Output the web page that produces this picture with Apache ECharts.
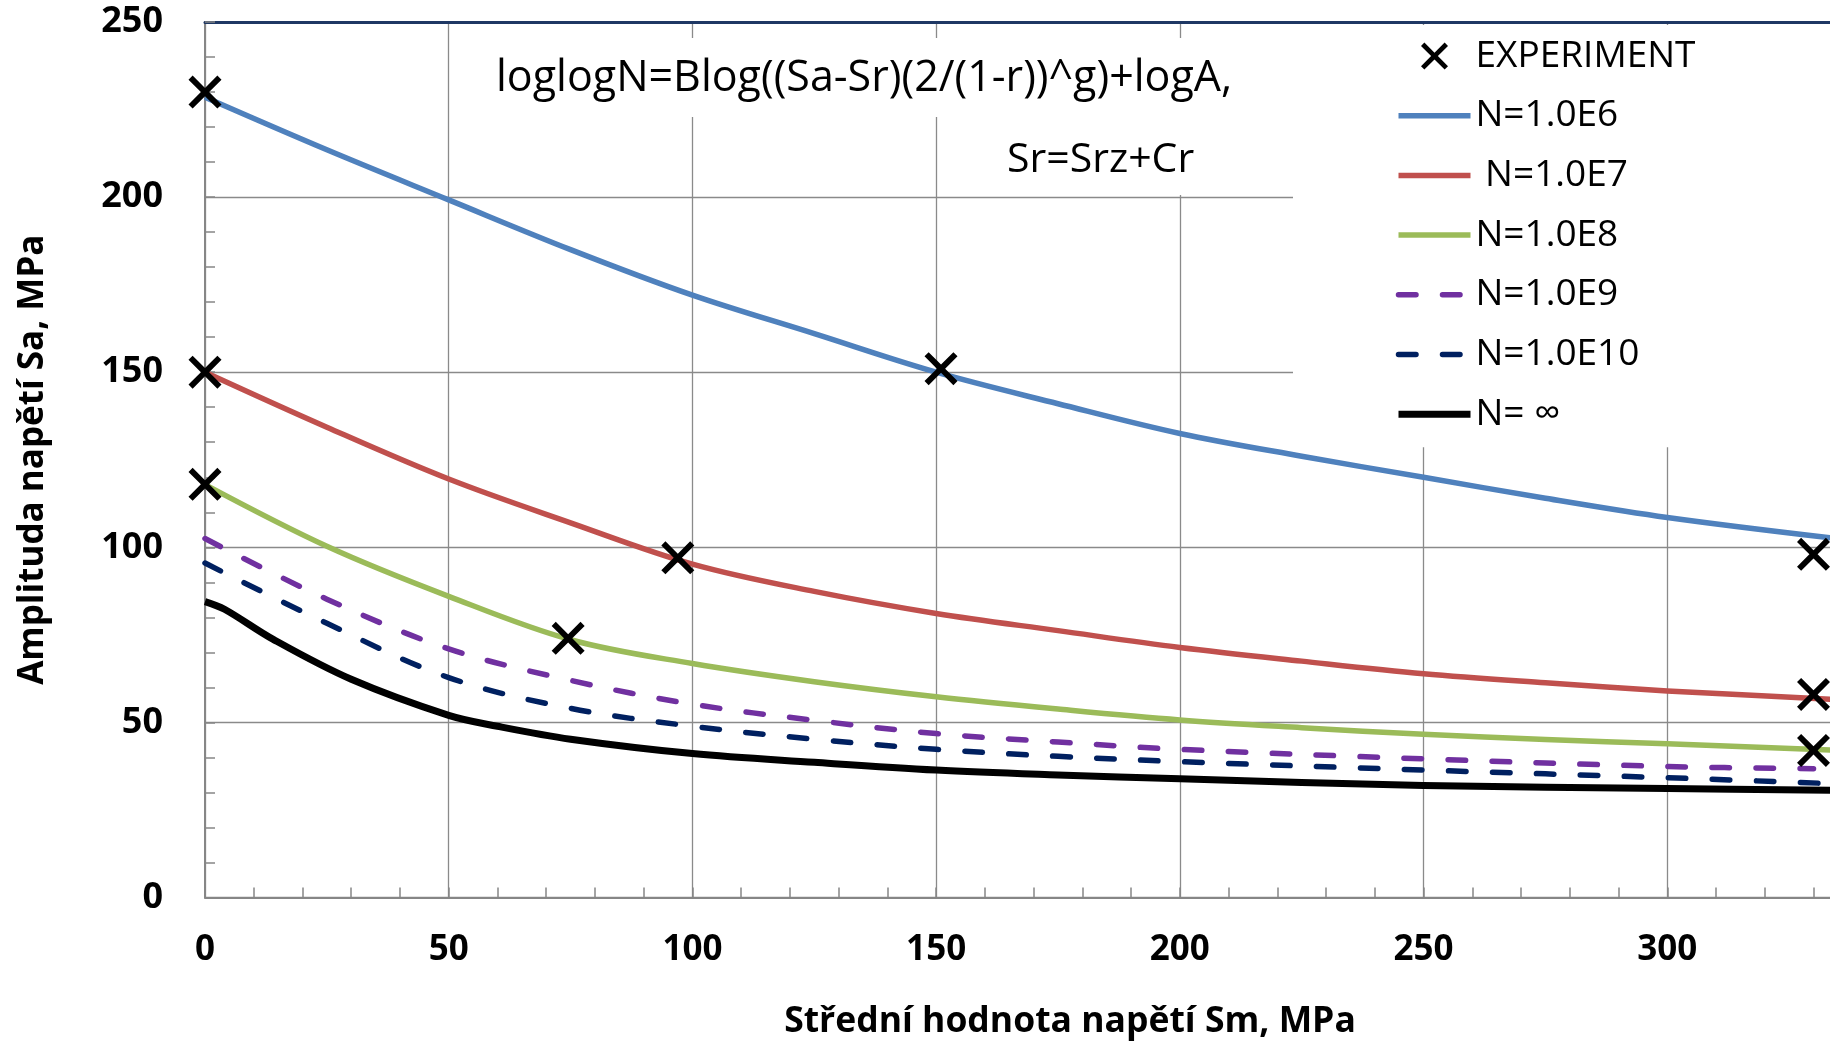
<!DOCTYPE html>
<html>
<head>
<meta charset="utf-8">
<script src="https://cdn.jsdelivr.net/npm/echarts@6/dist/echarts.min.js"></script>
<style>
  html, body { margin: 0; padding: 0; background: #ffffff; }
  #chart { width: 1830px; height: 1044px; }
</style>
</head>
<body>
<div id="chart"></div>
<script>
// Stress amplitude Sa (MPa) versus mean stress Sm (MPa) for each fatigue life
const curveN1e6  = [[0,228.5],[25,213.5],[50,199.2],[75,185],[100,172],[125,161],[150,150],[175,141],[200,132.5],[225,126],[250,120],[275,114],[300,108.5],[334,102.6]];
const curveN1e7  = [[0,150],[25,134.3],[50,119.5],[75,107],[100,95.2],[125,87.4],[150,81.1],[175,76.2],[200,71.4],[225,67.5],[250,63.9],[275,61.3],[300,59],[334,56.6]];
const curveN1e8  = [[0,117.9],[25,100.3],[50,86],[75,73.6],[100,66.8],[125,61.6],[150,57.3],[175,53.8],[200,50.7],[225,48.5],[250,46.6],[275,45.1],[300,43.9],[334,42.1]];
const curveN1e9  = [[0,102.5],[25,85.2],[50,71],[75,62],[100,55.2],[125,50.6],[150,46.8],[175,44.4],[200,42.3],[250,39.6],[300,37.4],[330,36.8]];
const curveN1e10 = [[0,95.5],[25,78.3],[50,62.8],[75,54],[100,48.9],[125,45.2],[150,42.3],[175,40.3],[200,38.8],[250,36.4],[300,34.2],[334,32.5]];
const curveNinf  = [[0,84.5],[4,82.3],[14,73.7],[30,62.3],[50,52],[60,48.9],[75,45.2],[100,41.1],[125,38.6],[150,36.4],[175,35],[200,33.9],[250,32],[300,31.1],[334,30.6]];

// Measured points
const experimentPoints = [[0,230],[0,150],[0,118],[74.5,74],[97,97],[151,151],[330,98],[330,58],[330,42]];

const seriesNames = ['EXPERIMENT', 'N=1.0E6', ' N=1.0E7', 'N=1.0E8', 'N=1.0E9', 'N=1.0E10', 'N= \u221E'];
const formulaLines = ['loglogN=Blog((Sa-Sr)(2/(1-r))^g)+logA,', 'Sr=Srz+Cr'];
const xAxisTitle = 'St\u0159edn\u00ED hodnota nap\u011Bt\u00ED Sm, MPa';
const yAxisTitle = 'Amplituda nap\u011Bt\u00ED Sa, MPa';

const FONT = "'Open Sans', 'DejaVu Sans', sans-serif";
const GRID_GREY = '#8a8a8a';
const AXIS_GREY = '#868686';

// filled cross used as the measurement marker
const crossSymbol = 'path://M0,12.5 L12.5,0 L50,37.5 L87.5,0 L100,12.5 L62.5,50 L100,87.5 L87.5,100 L50,62.5 L12.5,100 L0,87.5 L37.5,50 Z';

function lineSeries(name, data, color, width, dashed) {
  return {
    name: name,
    type: 'line',
    data: data,
    color: color,
    symbol: 'none',
    smooth: 0.35,
    lineStyle: {
      color: color,
      width: width,
      type: dashed ? [17.5, 26.5] : 'solid',
      cap: dashed ? 'round' : 'butt',
      join: 'round'
    },
    z: 2
  };
}

// legend entries: lines without the default dot in their icon
const legendData = seriesNames.map(function (name, i) {
  return i === 0 ? { name: name } : { name: name, itemStyle: { opacity: 0 } };
});

const chart = echarts.init(document.getElementById('chart'), null, { renderer: 'canvas' });

chart.setOption({
  animation: false,
  backgroundColor: '#ffffff',
  grid: { left: 205, top: 22, width: 1706, height: 875.5, containLabel: false, outerBoundsMode: 'none' },
  xAxis: [
    {
      type: 'value',
      position: 'bottom',
      min: 0,
      max: 350,
      interval: 50,
      axisLine: { show: true, onZero: false, lineStyle: { color: AXIS_GREY, width: 2 } },
      axisTick: { show: true, inside: true, length: 10, lineStyle: { color: AXIS_GREY, width: 1.5 } },
      minorTick: { show: true, splitNumber: 5, length: 10, lineStyle: { color: AXIS_GREY, width: 1.5 } },
      splitLine: { show: true, lineStyle: { color: GRID_GREY, width: 1.3 } },
      axisLabel: { fontFamily: FONT, fontWeight: 'bold', fontSize: 35, color: '#000', margin: 35 },
      name: xAxisTitle,
      nameLocation: 'middle',
      nameGap: 106,
      nameTextStyle: { fontFamily: FONT, fontWeight: 'bold', fontSize: 35.5, color: '#000', padding: [0, 0, 0, 24] }
    },
    {
      type: 'value',
      position: 'top',
      min: 0,
      max: 350,
      axisLine: { show: true, onZero: false, lineStyle: { color: '#1F3864', width: 3 } },
      axisTick: { show: false },
      axisLabel: { show: false },
      splitLine: { show: false }
    }
  ],
  yAxis: {
    type: 'value',
    min: 0,
    max: 250,
    interval: 50,
    axisLine: { show: true, onZero: false, lineStyle: { color: AXIS_GREY, width: 2 } },
    axisTick: { show: true, inside: true, length: 10, lineStyle: { color: AXIS_GREY, width: 1.5 } },
    minorTick: { show: true, splitNumber: 5, length: 10, lineStyle: { color: AXIS_GREY, width: 1.5 } },
    splitLine: { show: true, lineStyle: { color: GRID_GREY, width: 1.3 } },
    axisLabel: { fontFamily: FONT, fontWeight: 'bold', fontSize: 36, color: '#000', margin: 42 },
    name: yAxisTitle,
    nameLocation: 'middle',
    nameGap: 154,
    nameRotate: 90,
    nameTextStyle: { fontFamily: FONT, fontWeight: 'bold', fontSize: 35, color: '#000' }
  },
  legend: {
    orient: 'vertical',
    left: 1293,
    top: 25,
    padding: [11, 160, 13, 102],
    backgroundColor: '#ffffff',
    itemWidth: 72,
    itemHeight: 27,
    itemGap: 19.7,
    selectedMode: false,
    lineStyle: { width: 'inherit' },
    textStyle: { fontFamily: FONT, fontSize: 37, color: '#000', lineHeight: 40 },
    data: legendData
  },
  graphic: [
    {
      type: 'text',
      x: 480,
      y: 38,
      z: 5,
      style: {
        text: formulaLines[0],
        fontFamily: FONT,
        fontSize: 43,
        lineHeight: 42,
        fill: '#000',
        align: 'left',
        verticalAlign: 'top',
        backgroundColor: '#ffffff',
        padding: [20, 21, 17, 16]
      }
    },
    {
      type: 'text',
      x: 990,
      y: 117,
      z: 5,
      style: {
        text: formulaLines[1],
        fontFamily: FONT,
        fontSize: 41,
        lineHeight: 42,
        fill: '#000',
        align: 'left',
        verticalAlign: 'top',
        backgroundColor: '#ffffff',
        padding: [22, 20, 14, 17]
      }
    }
  ],
  series: [
    {
      name: seriesNames[0],
      type: 'scatter',
      data: experimentPoints,
      symbol: crossSymbol,
      symbolSize: 33,
      itemStyle: { color: '#000', opacity: 1 },
      color: '#000',
      clip: false,
      z: 4
    },
    lineSeries(seriesNames[1], curveN1e6, '#4F81BD', 5.5, false),
    lineSeries(seriesNames[2], curveN1e7, '#C0504D', 5.5, false),
    lineSeries(seriesNames[3], curveN1e8, '#9BBB59', 5.5, false),
    lineSeries(seriesNames[4], curveN1e9, '#7030A0', 5.5, true),
    lineSeries(seriesNames[5], curveN1e10, '#002060', 5.5, true),
    lineSeries(seriesNames[6], curveNinf, '#000000', 7, false)
  ]
});
</script>
</body>
</html>
